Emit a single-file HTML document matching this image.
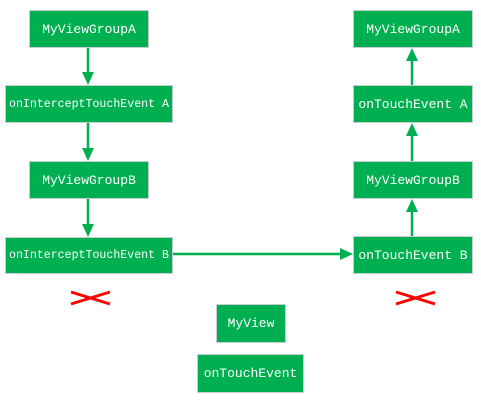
<!DOCTYPE html>
<html><head><meta charset="utf-8"><style>
body{margin:0;width:481px;height:400px;background:#fff;position:relative;overflow:hidden;font-family:"Liberation Mono","Noto Serif CJK SC",monospace;}
.b{position:absolute;background:#00AF50;border:1px solid #c8ccd4;box-sizing:border-box;color:#fff;font-size:13px;display:flex;align-items:center;justify-content:center;white-space:nowrap;}
.s{font-size:11.6px;}
svg{position:absolute;left:0;top:0;}
</style></head><body>
<svg width="481" height="400">
<g stroke="#00AF50" stroke-width="2.5" fill="none">
<line x1="88" y1="48" x2="88" y2="74"/>
<line x1="88" y1="123" x2="88" y2="150"/>
<line x1="88" y1="198" x2="88" y2="226"/>
<line x1="172" y1="254" x2="342" y2="254"/>
<line x1="412" y1="236" x2="412" y2="210"/>
<line x1="412" y1="161" x2="412" y2="134"/>
<line x1="412" y1="85" x2="412" y2="59"/>
</g>
<g fill="#00AF50">
<polygon points="82,72 94,72 88,85"/>
<polygon points="82,148 94,148 88,161"/>
<polygon points="82,224 94,224 88,237"/>
<polygon points="340,248 340,260 353,254"/>
<polygon points="406,212 418,212 412,199"/>
<polygon points="406,136 418,136 412,123"/>
<polygon points="406,61 418,61 412,48"/>
</g>
<g stroke="#f00" stroke-width="3">
<line x1="71" y1="292" x2="110" y2="304"/><line x1="71" y1="304" x2="110" y2="292"/>
<line x1="396" y1="292" x2="435" y2="304"/><line x1="396" y1="304" x2="435" y2="292"/>
</g>
</svg>
<div class="b" style="left:29px;top:10px;width:120px;height:38px">MyViewGroupA</div>
<div class="b s" style="left:5px;top:85px;width:168px;height:38px">onInterceptTouchEvent A</div>
<div class="b" style="left:29px;top:161px;width:120px;height:38px">MyViewGroupB</div>
<div class="b s" style="left:5px;top:237px;width:168px;height:37px">onInterceptTouchEvent B</div>
<div class="b" style="left:353px;top:10px;width:120px;height:38px">MyViewGroupA</div>
<div class="b" style="left:353px;top:85px;width:120px;height:38px">onTouchEvent A</div>
<div class="b" style="left:353px;top:161px;width:120px;height:38px">MyViewGroupB</div>
<div class="b" style="left:353px;top:236px;width:120px;height:38px">onTouchEvent B</div>
<div class="b" style="left:216px;top:304px;width:70px;height:39px">MyView</div>
<div class="b" style="left:197px;top:354px;width:107px;height:39px">onTouchEvent</div>
</body></html>
